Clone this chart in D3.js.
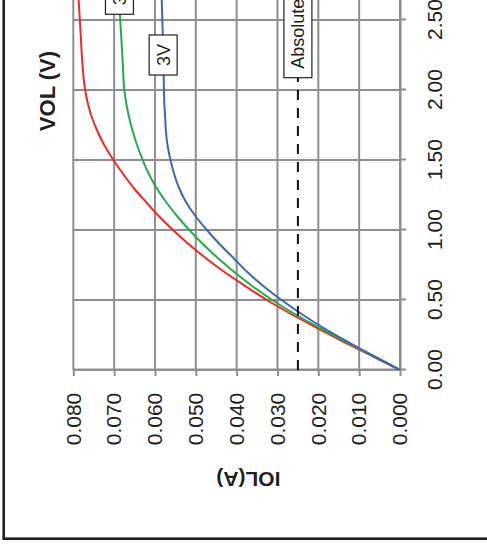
<!DOCTYPE html>
<html><head><meta charset="utf-8">
<script src="https://cdn.jsdelivr.net/npm/d3@7/dist/d3.min.js"></script>
<style>body{margin:0;background:#fff} svg{display:block}</style>
</head><body><svg id="c" width="487" height="551"></svg>
<script>
// ---- data ----
const volGrid = [0,0.1,0.2,0.3,0.4,0.5,0.6,0.7,0.8,0.9,1.0,1.1,1.2,1.3,1.4,1.5,1.6,1.7,1.8,1.9,2.0,2.2,2.4,2.6,2.8,3.0];
const iol36V = [0,0.0069,0.0137,0.0203,0.0267,0.0326,0.0379,0.0430,0.0476,0.0518,0.0556,0.0591,0.0622,0.0652,0.0678,0.0702,0.0723,0.0740,0.0754,0.0764,0.0771,0.0778,0.0782,0.0786,0.0790,0.0794];
const iol33V = [0,0.0066,0.0131,0.0196,0.0258,0.0313,0.0362,0.0406,0.0446,0.0483,0.0516,0.0546,0.0573,0.0596,0.0615,0.0630,0.0643,0.0654,0.0663,0.0670,0.0675,0.0679,0.0683,0.0687,0.0690,0.0693];
const iol30V = [0,0.0064,0.0127,0.0187,0.0241,0.0290,0.0335,0.0374,0.0408,0.0442,0.0473,0.0501,0.0524,0.0541,0.0553,0.0562,0.0569,0.0573,0.0575,0.0577,0.0578,0.05795,0.0581,0.0583,0.0585,0.0587];
const seriesNames = ["3.6V","3.3V","3V"];
const volTicks = [0,0.5,1.0,1.5,2.0,2.5];
const iolTicks = [0,0.01,0.02,0.03,0.04,0.05,0.06,0.07,0.08];
const limitIOL = 0.025;
const labelTexts = ["3V","3.3V","Absolute Maximum Rating"];
const labelStartVOL = [2.107,2.541,2.088];
const labelIOL = [0.0580,0.0687,0.025];
const xTitle = "VOL (V)";
const yTitle = "IOL(A)";

// ---- styles ----
const colors = ["#ee2a24","#26ab4c","#3c66b6"];
const gridColor = "#8e8e8e";
const ink = "#231f20";
const font = "'Liberation Sans', Arial, sans-serif";

const W = 487, H = 551;
const svg = d3.select("#c");

// outer frame
svg.append("rect").attr("x",3.7).attr("y",-10).attr("width",600).attr("height",548.7)
  .attr("fill","none").attr("stroke",ink).attr("stroke-width",2.6);

// chart drawn in its original orientation and rotated -90deg
const g = svg.append("g").attr("transform",`translate(0,${H}) rotate(-90)`);
const x = d3.scaleLinear().domain([0,4]).range([181,741]);   // VOL
const y = d3.scaleLinear().domain([0,0.08]).range([400,73.3]); // IOL

// grid
g.append("g").selectAll("line").data(volTicks).join("line")
  .attr("x1",d=>x(d)).attr("x2",d=>x(d)).attr("y1",y(0)).attr("y2",y(0.08))
  .attr("stroke",gridColor).attr("stroke-width",2);
g.append("g").selectAll("line").data(iolTicks).join("line")
  .attr("x1",x(0)).attr("x2",x(4)).attr("y1",d=>y(d)).attr("y2",d=>y(d))
  .attr("stroke",gridColor).attr("stroke-width",2);

// axes
const xAxis = d3.axisBottom(x).tickValues(volTicks).tickFormat(d3.format(".2f"))
  .tickSizeInner(6).tickSizeOuter(0).tickPadding(21);
const yAxis = d3.axisLeft(y).tickValues(iolTicks).tickFormat(d3.format(".3f"))
  .tickSizeInner(6).tickSizeOuter(0).tickPadding(16.7);
function styleAxis(sel){
  sel.select(".domain").attr("stroke",gridColor).attr("stroke-width",2);
  sel.selectAll(".tick line").attr("stroke",gridColor).attr("stroke-width",2);
  sel.selectAll(".tick text").attr("fill",ink).style("font-family",font).style("font-size","21px");
}
g.append("g").attr("transform",`translate(0,${y(0)})`).call(xAxis).call(styleAxis);
g.append("g").attr("transform",`translate(${x(0)},0)`).call(yAxis).call(styleAxis);

// clip
g.append("clipPath").attr("id","plotclip").append("rect")
  .attr("x",x(0)).attr("y",y(0.08)-3).attr("width",x(4)-x(0)).attr("height",y(0)-y(0.08)+3);

// curves
const allSeries = [iol36V, iol33V, iol30V];
const line = d3.line().x(d=>x(d[0])).y(d=>y(d[1])).curve(d3.curveMonotoneX);
g.append("g").attr("clip-path","url(#plotclip)").selectAll("path")
  .data(allSeries.map((s,i)=>({name:seriesNames[i], pts: volGrid.map((v,j)=>[v,s[j]])})))
  .join("path").attr("d",d=>line(d.pts)).attr("fill","none")
  .attr("stroke",(d,i)=>colors[i]).attr("stroke-width",2);

// limit line
g.append("line").attr("x1",x(0)).attr("x2",x(labelStartVOL[2])).attr("y1",y(limitIOL)).attr("y2",y(limitIOL))
  .attr("stroke","#111").attr("stroke-width",2).attr("stroke-dasharray","10,8");

// labels
const lab = g.append("g");
labelTexts.forEach((t,i)=>{
  const lg = lab.append("g");
  const rect = lg.append("rect");
  const tx = lg.append("text").text(t)
    .attr("x",x(labelStartVOL[i])+9).attr("y",y(labelIOL[i])).attr("dy","0.36em")
    .attr("fill",ink).style("font-family",font).style("font-size","18px");
  const len = tx.node().getComputedTextLength();
  rect.attr("x",x(labelStartVOL[i])).attr("y",y(labelIOL[i])-14)
    .attr("width",len+18).attr("height",28).attr("fill","#fff").attr("stroke",ink).attr("stroke-width",1.2);
});

// titles
g.append("text").text(xTitle).attr("x",460).attr("y",47.2).attr("dy","0.36em")
  .attr("text-anchor","middle").attr("fill",ink)
  .style("font-family",font).style("font-size","22px").style("font-weight","bold");
g.append("text").text(yTitle).attr("transform","translate(71.8,248.3) rotate(-90)").attr("dy","0.36em")
  .attr("text-anchor","middle").attr("fill",ink)
  .style("font-family",font).style("font-size","21px").style("font-weight","bold");
</script></body></html>
